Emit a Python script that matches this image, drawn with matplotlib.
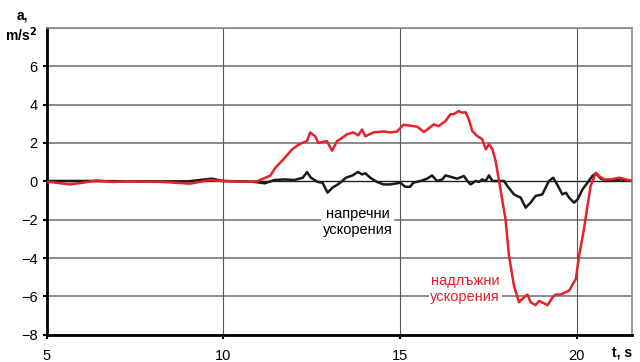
import matplotlib.pyplot as plt

plt.rcParams['font.family'] = ['Liberation Sans', 'DejaVu Sans']

# надлъжни ускорения (red)
t_long = [5.0, 5.09, 5.65, 6.03, 6.41, 6.87, 7.26, 7.72, 8.29, 9.06, 9.62, 10.0, 10.56,
          10.95, 11.33, 11.47, 11.70, 11.94, 12.08, 12.23, 12.37, 12.46, 12.60, 12.69,
          12.79, 12.93, 13.08, 13.22, 13.31, 13.50, 13.68, 13.82, 13.93, 14.02, 14.25,
          14.53, 14.73, 14.92, 15.10, 15.30, 15.49, 15.68, 15.96, 16.09, 16.29, 16.43,
          16.52, 16.66, 16.76, 16.86, 16.95, 17.05, 17.19, 17.33, 17.43, 17.52, 17.62,
          17.71, 17.80, 17.90, 17.99, 18.09, 18.23, 18.37, 18.51, 18.61, 18.70, 18.84,
          18.94, 19.18, 19.32, 19.41, 19.55, 19.70, 19.79, 19.93, 19.98, 20.07, 20.21,
          20.31, 20.40, 20.55, 20.64, 20.78, 20.97, 21.21, 21.40, 21.58]
a_long = [-0.05, -0.03, -0.16, -0.07, 0.05, -0.03, 0.0, -0.02, -0.03, -0.12, 0.07, 0.02, -0.02,
          0.0, 0.3, 0.7, 1.15, 1.65, 1.85, 2.0, 2.1, 2.55, 2.35, 2.0,
          2.05, 2.1, 1.6, 2.1, 2.2, 2.45, 2.55, 2.4, 2.7, 2.35, 2.55,
          2.6, 2.55, 2.6, 2.95, 2.9, 2.85, 2.57, 2.97, 2.88, 3.14, 3.5,
          3.5, 3.66, 3.58, 3.6, 3.23, 2.62, 2.36, 2.2, 1.67, 1.93, 1.67,
          1.06, 0.1, -1.0, -1.98, -3.9, -5.45, -6.3, -6.05, -5.9, -6.3, -6.45,
          -6.23, -6.45, -6.05, -5.9, -5.9, -5.77, -5.7, -5.24, -5.1, -3.9, -2.5,
          -1.29, -0.24, 0.45, 0.28, 0.1, 0.1, 0.19, 0.1, 0.02]

# напречни ускорения (black)
t_lat = [5.0, 5.09, 6.15, 7.5, 9.0, 9.67, 10.0, 10.56, 10.89, 11.17, 11.45, 11.73, 12.01,
         12.25, 12.37, 12.48, 12.67, 12.81, 12.95, 13.09, 13.24, 13.33, 13.47, 13.66,
         13.81, 13.93, 14.02, 14.16, 14.35, 14.54, 14.73, 15.01, 15.15, 15.29, 15.38,
         15.58, 15.77, 15.91, 16.05, 16.20, 16.29, 16.43, 16.62, 16.81, 16.91, 17.00,
         17.14, 17.24, 17.33, 17.43, 17.52, 17.62, 17.80, 17.95, 18.04, 18.23, 18.42,
         18.56, 18.70, 18.84, 19.03, 19.22, 19.34, 19.45, 19.60, 19.70, 19.79, 19.93,
         20.03, 20.17, 20.31, 20.45, 20.55, 20.69, 20.88, 21.07, 21.26, 21.58]
a_lat = [0.0, 0.02, 0.02, 0.0, 0.0, 0.14, 0.02, 0.0, -0.03, -0.1, 0.07, 0.1, 0.07,
         0.19, 0.48, 0.19, -0.03, -0.07, -0.59, -0.33, -0.16, -0.04, 0.19, 0.31,
         0.49, 0.36, 0.42, 0.19, -0.03, -0.16, -0.16, -0.07, -0.28, -0.28, -0.07,
         0.02, 0.14, 0.31, 0.02, 0.1, 0.31, 0.24, 0.14, 0.28, 0.02, -0.16,
         0.02, -0.03, 0.1, 0.02, 0.31, 0.02, 0.02, 0.02, -0.24, -0.68, -0.85,
         -1.37, -1.11, -0.76, -0.68, 0.02, 0.19, -0.16, -0.68, -0.59, -0.85, -1.11,
         -0.94, -0.42, -0.07, 0.28, 0.42, 0.14, 0.02, 0.07, 0.1, 0.02]

x_ticks = [5, 10, 15, 20]
y_ticks = [-8, -6, -4, -2, 0, 2, 4, 6, 8]

fig = plt.figure(figsize=(6.4, 3.62), dpi=100)
ax = fig.add_axes([0.073, 0.075, 0.915, 0.848])

for y in y_ticks:
    if y != 0:
        ax.axhline(y, color='#8a8a8a', lw=1.4, zorder=1)
ax.axhline(0, color='#222222', lw=1.0, zorder=1)
for x in [10, 15, 20]:
    ax.axvline(x, color='#555555', lw=0.8, zorder=1)

ax.plot(t_lat, a_lat, color='#1a1a1a', lw=1.8, zorder=3)
ax.plot(t_long, a_long, color='#e8202a', lw=1.8, zorder=4)

ax.set_xlim(5, 21.58)
ax.set_ylim(-8, 8)
ax.set_xticks(x_ticks)
ax.set_yticks(y_ticks[:-1])
ax.tick_params(axis='both', labelsize=10.5, length=3, width=1.5, color='black')
ax.tick_params(axis='x', pad=7)

for side in ['left', 'bottom']:
    ax.spines[side].set_linewidth(2)
    ax.spines[side].set_color('black')
for side in ['top', 'right']:
    ax.spines[side].set_linewidth(1.2)
    ax.spines[side].set_color('#8a8a8a')

bbox = dict(facecolor='white', edgecolor='none', pad=1)
ax.text(13.8, -2.1, 'напречни\nускорения', ha='center', va='center', fontsize=10.5,
        color='black', linespacing=1.2, bbox=bbox, zorder=5)
ax.text(16.85, -5.6, 'надлъжни\nускорения', ha='center', va='center', fontsize=10.5,
        color='#e8202a', linespacing=1.2, bbox=bbox, zorder=5)

fig.text(0.035, 0.958, 'a,', ha='center', va='center', fontsize=10, fontweight='bold')
fig.text(0.033, 0.905, 'm/s$^\\mathbf{2}$', ha='center', va='center', fontsize=10, fontweight='bold')
fig.text(0.972, 0.025, 't, s', ha='center', va='center', fontsize=10, fontweight='bold')

fig.savefig('out.png', dpi=100)
